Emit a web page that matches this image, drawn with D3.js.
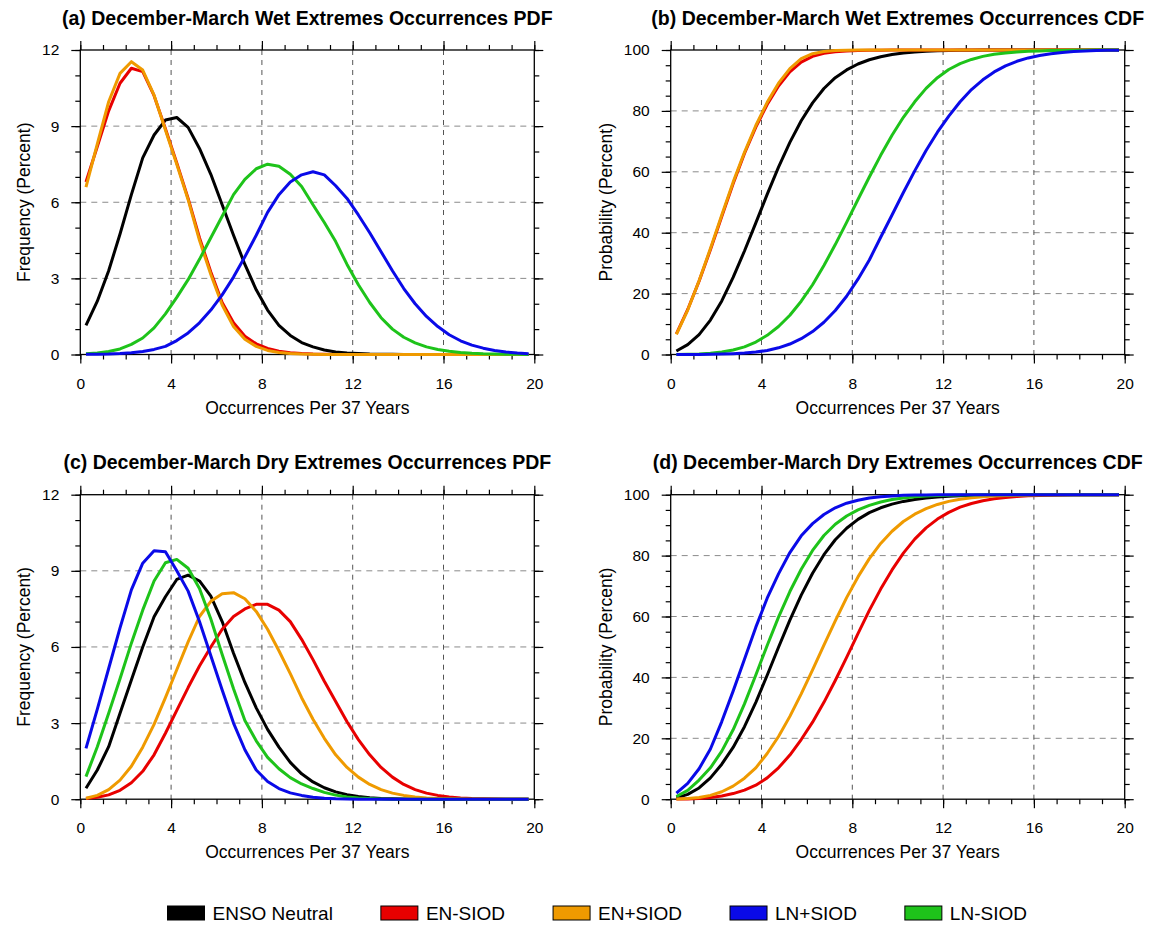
<!DOCTYPE html>
<html>
<head>
<meta charset="utf-8">
<script src="https://cdn.jsdelivr.net/npm/d3@7"></script>
<style>
  body { margin: 0; background: #fff; }
  svg { display: block; }
  text { font-family: "Liberation Sans", Arial, Helvetica, sans-serif; }
</style>
</head>
<body>
<svg id="chart" width="1149" height="926"></svg>
<script>
// x positions of the 40 points (bin centres)
const occurrences = [0.25, 0.75, 1.25, 1.75, 2.25, 2.75, 3.25, 3.75, 4.25, 4.75,
  5.25, 5.75, 6.25, 6.75, 7.25, 7.75, 8.25, 8.75, 9.25, 9.75,
  10.25, 10.75, 11.25, 11.75, 12.25, 12.75, 13.25, 13.75, 14.25, 14.75,
  15.25, 15.75, 16.25, 16.75, 17.25, 17.75, 18.25, 18.75, 19.25, 19.75];

const seriesNames = ["ENSO Neutral", "EN-SIOD", "EN+SIOD", "LN+SIOD", "LN-SIOD"];
const seriesColors = ["#000000", "#e80000", "#ef9a00", "#0a0ae8", "#1ec31a"];

const panelTitles = [
  "(a) December-March Wet Extremes Occurrences PDF",
  "(b) December-March Wet Extremes Occurrences CDF",
  "(c) December-March Dry Extremes Occurrences PDF",
  "(d) December-March Dry Extremes Occurrences CDF"
];
const xTitle = "Occurrences Per 37 Years";
const pdfTitle = "Frequency (Percent)";
const cdfTitle = "Probability (Percent)";

const xTicks = [0, 4, 8, 12, 16, 20];
const xMinorTicks = d3.range(0, 21, 1);
const pdfTicks = [0, 3, 6, 9, 12];
const pdfMinorTicks = d3.range(0, 13, 1);
const cdfTicks = [0, 20, 40, 60, 80, 100];
const cdfMinorTicks = d3.range(0, 101, 5);

// (a) wet PDF
const wetPdfNeutral = [1.15,2.1,3.3,4.75,6.3,7.75,8.65,9.24,9.34,8.95,8.12,7.1,5.9,4.7,3.55,2.55,1.75,1.15,0.75,0.47,0.3,0.18,0.1,0.06,0.04,0.02,0.01,0.01,0,0,0,0,0,0,0,0,0,0,0,0];
const wetPdfENminus = [6.8,8.2,9.6,10.69,11.28,11.15,10.2,8.9,7.55,6.15,4.6,3.25,2.05,1.25,0.72,0.42,0.24,0.13,0.07,0.04,0.02,0.01,0,0,0,0,0,0,0,0,0,0,0,0,0,0,0,0,0,0];
const wetPdfENplus = [6.6,8.3,9.96,11.08,11.54,11.21,10.22,8.85,7.5,6.1,4.5,3.15,1.95,1.1,0.6,0.32,0.16,0.08,0.04,0.02,0.01,0,0,0,0,0,0,0,0,0,0,0,0,0,0,0,0,0,0,0];
const wetPdfLNplus = [0.01,0.01,0.02,0.04,0.07,0.12,0.2,0.32,0.55,0.85,1.25,1.75,2.35,3.05,3.85,4.7,5.6,6.3,6.8,7.08,7.2,7.08,6.65,6.15,5.5,4.8,4.05,3.3,2.6,2.0,1.5,1.1,0.78,0.54,0.37,0.25,0.16,0.1,0.06,0.03];
const wetPdfLNminus = [0.03,0.06,0.12,0.22,0.4,0.65,1.05,1.6,2.25,2.95,3.75,4.6,5.45,6.3,6.9,7.32,7.5,7.42,7.1,6.62,5.9,5.2,4.45,3.55,2.75,2.05,1.45,1.0,0.68,0.46,0.3,0.2,0.13,0.08,0.05,0.03,0.02,0.01,0.01,0];

// (b) wet CDF
const wetCdfNeutral = [1.15,3.25,6.55,11.3,17.6,25.35,34.0,43.24,52.58,61.53,69.65,76.75,82.65,87.35,90.9,93.45,95.4,96.8,97.8,98.5,99.0,99.35,99.6,99.75,99.85,99.91,99.95,99.97,99.99,100,100,100,100,100,100,100,100,100,100,100];
const wetCdfENminus = [6.8,14.8,24.1,34.4,45.3,56.1,66.0,74.7,82.1,88.2,92.8,96.0,97.9,98.9,99.4,99.68,99.83,99.91,99.95,99.97,99.99,100,100,100,100,100,100,100,100,100,100,100,100,100,100,100,100,100,100,100];
const wetCdfENplus = [6.6,14.6,24.2,34.8,45.8,56.6,66.4,75.2,82.8,89.1,93.9,97.2,98.8,99.5,99.8,99.92,99.97,99.99,100,100,100,100,100,100,100,100,100,100,100,100,100,100,100,100,100,100,100,100,100,100];
const wetCdfLNplus = [0.01,0.02,0.04,0.08,0.15,0.27,0.47,0.79,1.34,2.19,3.44,5.19,7.54,10.59,14.44,19.14,24.74,31.04,38.5,45.8,53.2,60.3,67.0,73.0,78.3,83.0,87.0,90.2,92.8,94.8,96.3,97.4,98.2,98.8,99.2,99.5,99.7,99.82,99.9,99.95];
const wetCdfLNminus = [0.03,0.09,0.2,0.42,0.82,1.47,2.5,4.1,6.3,9.2,12.9,17.5,22.9,29.2,36.1,43.4,50.9,58.3,65.4,72.0,77.9,83.0,87.4,90.9,93.6,95.5,96.9,97.9,98.6,99.05,99.35,99.56,99.7,99.8,99.87,99.92,99.95,99.97,99.99,100];

// (c) dry PDF
const dryPdfNeutral = [0.43,1.15,2.07,3.39,4.7,6.0,7.19,7.98,8.66,8.83,8.6,8.0,7.0,5.75,4.6,3.6,2.75,2.05,1.45,1.0,0.68,0.45,0.29,0.18,0.11,0.06,0.03,0.02,0.01,0,0,0,0,0,0,0,0,0,0,0];
const dryPdfENminus = [0.03,0.08,0.17,0.35,0.65,1.1,1.75,2.6,3.5,4.4,5.25,6.0,6.7,7.2,7.5,7.68,7.68,7.45,7.0,6.3,5.5,4.65,3.85,3.05,2.35,1.75,1.25,0.87,0.58,0.38,0.24,0.15,0.09,0.05,0.03,0.02,0.01,0,0,0];
const dryPdfENplus = [0.04,0.15,0.38,0.75,1.3,2.05,2.95,4.0,5.1,6.2,7.2,7.8,8.1,8.14,7.9,7.4,6.7,5.85,4.95,4.0,3.15,2.4,1.75,1.25,0.87,0.58,0.38,0.24,0.15,0.09,0.05,0.03,0.02,0.01,0,0,0,0,0,0];
const dryPdfLNplus = [2.0,3.55,5.15,6.75,8.25,9.3,9.79,9.75,9.0,8.2,7.0,5.65,4.3,3.0,1.95,1.15,0.7,0.42,0.25,0.15,0.08,0.04,0.02,0.01,0,0,0,0,0,0,0,0,0,0,0,0,0,0,0,0];
const dryPdfLNminus = [0.89,2.07,3.39,4.75,6.15,7.45,8.6,9.32,9.45,9.1,8.3,7.1,5.7,4.35,3.1,2.3,1.65,1.2,0.85,0.6,0.42,0.27,0.16,0.09,0.05,0.03,0.01,0,0,0,0,0,0,0,0,0,0,0,0,0];

// (d) dry CDF
const dryCdfNeutral = [0.43,1.6,3.7,7.0,11.5,17.0,23.8,31.8,40.7,49.9,58.8,67.0,74.2,80.3,85.2,89.0,91.9,94.1,95.7,96.9,97.8,98.45,98.9,99.25,99.5,99.65,99.77,99.85,99.9,99.94,99.97,99.99,100,100,100,100,100,100,100,100];
const dryCdfENminus = [0.03,0.1,0.25,0.55,1.05,1.85,3.0,4.6,7.0,10.3,14.5,19.6,25.3,31.8,39.0,46.6,54.4,62.0,69.0,75.3,80.8,85.4,89.1,92.0,94.2,95.9,97.1,98.0,98.65,99.1,99.4,99.62,99.76,99.86,99.92,99.96,99.98,99.99,100,100];
const dryCdfENplus = [0.04,0.2,0.55,1.25,2.45,4.3,6.9,10.3,15.0,20.6,27.2,34.6,42.5,50.6,58.6,66.2,73.0,79.0,84.0,88.0,91.2,93.6,95.4,96.8,97.8,98.5,99.0,99.35,99.6,99.75,99.85,99.92,99.96,99.98,99.99,100,100,100,100,100];
const dryCdfLNplus = [2.0,5.2,10.0,16.5,25.5,35.5,46.0,56.5,66.0,74.0,81.0,86.5,90.5,93.5,95.7,97.2,98.2,98.9,99.35,99.6,99.78,99.88,99.94,99.97,99.99,100,100,100,100,100,100,100,100,100,100,100,100,100,100,100];
const dryCdfLNminus = [0.9,2.9,6.3,10.3,15.8,22.8,31.3,40.8,50.5,59.8,68.2,75.5,81.7,86.6,90.3,93.0,95.0,96.5,97.6,98.4,98.95,99.3,99.55,99.72,99.83,99.9,99.94,99.97,99.99,100,100,100,100,100,100,100,100,100,100,100];

// layout
const W = 454, H = 304.5;
const svg = d3.select("#chart");

// series order follows the legend: Neutral, EN-SIOD, EN+SIOD, LN+SIOD, LN-SIOD
const panels = [
  { title: panelTitles[0], yTitle: pdfTitle, left: 80.3, top: 50, yMax: 12, ticks: pdfTicks, minor: pdfMinorTicks, yTitleOff: 57,
    series: [wetPdfNeutral, wetPdfENminus, wetPdfENplus, wetPdfLNplus, wetPdfLNminus] },
  { title: panelTitles[1], yTitle: cdfTitle, left: 670.7, top: 50, yMax: 100, ticks: cdfTicks, minor: cdfMinorTicks, yTitleOff: 65,
    series: [wetCdfNeutral, wetCdfENminus, wetCdfENplus, wetCdfLNplus, wetCdfLNminus] },
  { title: panelTitles[2], yTitle: pdfTitle, left: 80.3, top: 494.7, yMax: 12, ticks: pdfTicks, minor: pdfMinorTicks, yTitleOff: 57,
    series: [dryPdfNeutral, dryPdfENminus, dryPdfENplus, dryPdfLNplus, dryPdfLNminus] },
  { title: panelTitles[3], yTitle: cdfTitle, left: 670.7, top: 494.7, yMax: 100, ticks: cdfTicks, minor: cdfMinorTicks, yTitleOff: 65,
    series: [dryCdfNeutral, dryCdfENminus, dryCdfENplus, dryCdfLNplus, dryCdfLNminus] }
];

// drawing order: black, red, orange, green, blue on top
const drawOrder = [0, 1, 2, 4, 3];

function styleAxis(sel) {
  sel.select(".domain").remove();
  sel.selectAll(".tick line").attr("stroke", "#000").attr("stroke-width", 1.2);
  sel.selectAll(".tick text")
    .attr("fill", "#000")
    .style("font-size", "15.5px")
    .style("font-family", '"Liberation Sans", Arial, Helvetica, sans-serif');
}

function drawPanel(p) {
  const g = svg.append("g").attr("transform", `translate(${p.left},${p.top})`);
  const x = d3.scaleLinear().domain([0, 20]).range([0, W]);
  const y = d3.scaleLinear().domain([0, p.yMax]).range([H, 0]);

  // dashed grid at interior major ticks
  g.append("g").selectAll("line")
    .data(p.ticks.slice(1, -1))
    .enter().append("line")
    .attr("x1", 0).attr("x2", W)
    .attr("y1", d => y(d)).attr("y2", d => y(d))
    .attr("stroke", "#8a8a8a").attr("stroke-width", 1)
    .attr("stroke-dasharray", "6,5");
  g.append("g").selectAll("line")
    .data(xTicks.slice(1, -1))
    .enter().append("line")
    .attr("y1", 0).attr("y2", H)
    .attr("x1", d => x(d)).attr("x2", d => x(d))
    .attr("stroke", "#555").attr("stroke-width", 1)
    .attr("stroke-dasharray", "5,5");

  // minor ticks
  g.append("g").attr("transform", `translate(0,${H})`)
    .call(d3.axisBottom(x).tickValues(xMinorTicks).tickSize(5).tickFormat("")).call(styleAxis);
  g.append("g")
    .call(d3.axisTop(x).tickValues(xMinorTicks).tickSize(5).tickFormat("")).call(styleAxis);
  g.append("g")
    .call(d3.axisLeft(y).tickValues(p.minor).tickSize(5).tickFormat("")).call(styleAxis);
  g.append("g").attr("transform", `translate(${W},0)`)
    .call(d3.axisRight(y).tickValues(p.minor).tickSize(5).tickFormat("")).call(styleAxis);

  // major ticks with labels on bottom and left
  g.append("g").attr("transform", `translate(0,${H})`)
    .call(d3.axisBottom(x).tickValues(xTicks).tickSize(9).tickPadding(14).tickFormat(d3.format("d")))
    .call(styleAxis);
  g.append("g")
    .call(d3.axisTop(x).tickValues(xTicks).tickSize(9).tickFormat("")).call(styleAxis);
  g.append("g")
    .call(d3.axisLeft(y).tickValues(p.ticks).tickSize(9).tickPadding(12).tickFormat(d3.format("d")))
    .call(styleAxis);
  g.append("g").attr("transform", `translate(${W},0)`)
    .call(d3.axisRight(y).tickValues(p.ticks).tickSize(9).tickFormat("")).call(styleAxis);

  // frame
  g.append("rect")
    .attr("width", W).attr("height", H)
    .attr("fill", "none").attr("stroke", "#000").attr("stroke-width", 1.3);

  // curves
  const line = d3.line()
    .x((d, i) => x(occurrences[i]))
    .y(d => y(d));
  drawOrder.forEach(k => {
    g.append("path")
      .datum(p.series[k])
      .attr("d", line)
      .attr("fill", "none")
      .attr("stroke", seriesColors[k])
      .attr("stroke-width", 3)
      .attr("stroke-linejoin", "round");
  });

  // titles
  g.append("text")
    .attr("x", W / 2).attr("y", -25.5)
    .attr("text-anchor", "middle")
    .style("font-size", "19.5px").style("font-weight", "bold")
    .text(p.title);
  g.append("text")
    .attr("x", W / 2).attr("y", H + 59)
    .attr("text-anchor", "middle")
    .style("font-size", "17.5px")
    .text(xTitle);
  g.append("text")
    .attr("transform", `translate(${-p.yTitleOff},${H / 2}) rotate(-90)`)
    .attr("dy", "0.36em")
    .attr("text-anchor", "middle")
    .style("font-size", "17.5px")
    .text(p.yTitle);
}

panels.forEach(drawPanel);

// legend
const legend = svg.append("g");
let lx = 167.5;
seriesNames.forEach((name, i) => {
  legend.append("rect")
    .attr("x", lx).attr("y", 906)
    .attr("width", 37).attr("height", 14)
    .attr("fill", seriesColors[i])
    .attr("stroke", "#000").attr("stroke-width", 1);
  const t = legend.append("text")
    .attr("x", lx + 45).attr("y", 920)
    .style("font-size", "19px")
    .text(name);
  lx += 45 + t.node().getComputedTextLength() + 48;
});
</script>
</body>
</html>
